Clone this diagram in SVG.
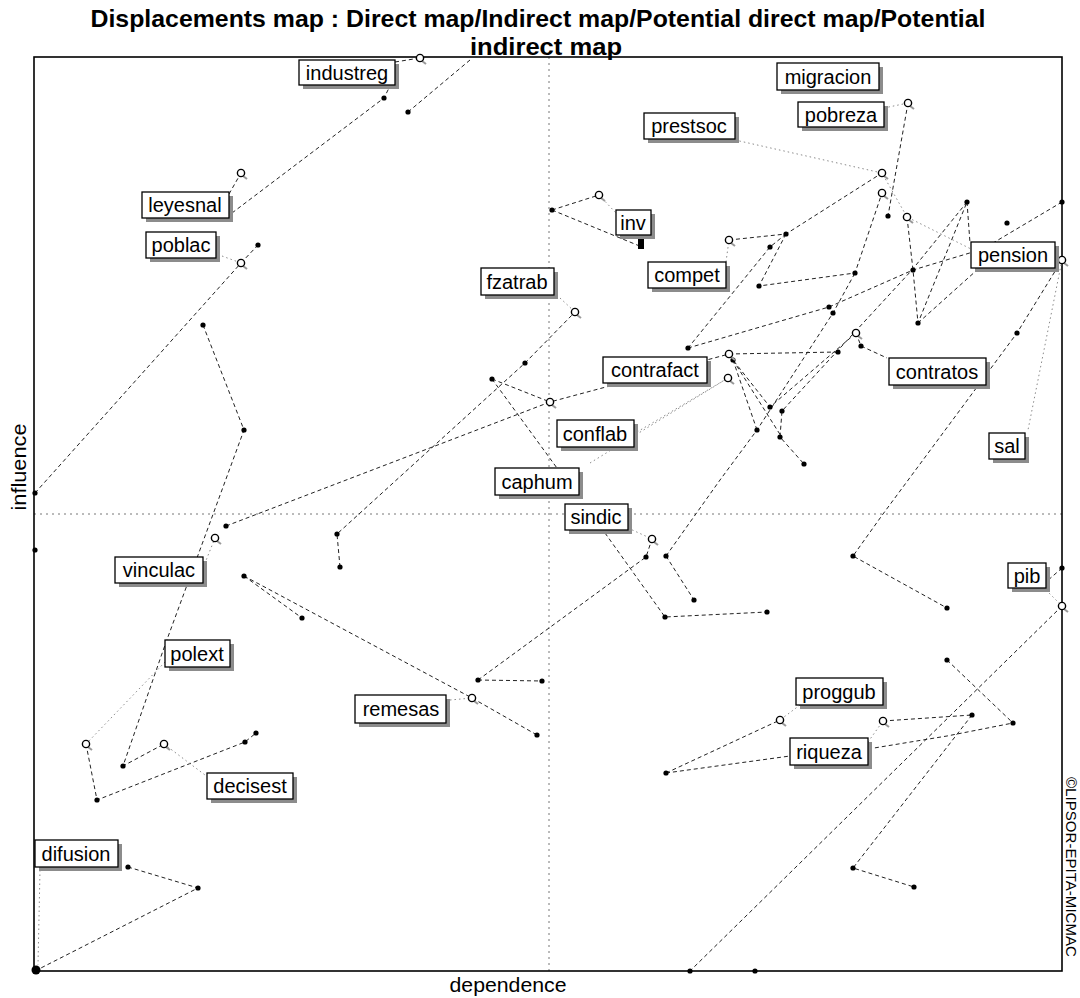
<svg xmlns="http://www.w3.org/2000/svg" width="1080" height="998" viewBox="0 0 1080 998">
<defs>
<style>
.d{fill:none;stroke:#222;stroke-width:1;stroke-dasharray:4 3}
.p{fill:none;stroke:#8a8a8a;stroke-width:1;stroke-dasharray:1.5 3}
.m{fill:none;stroke:#777;stroke-width:1;stroke-dasharray:2 4}
.lb rect.b{fill:#fff;stroke:#000;stroke-width:1.3}
.lb rect.s{fill:#8c8c8c}
.lb text{font-family:"Liberation Sans",Arial,sans-serif;font-size:20px;fill:#000;text-anchor:middle}
.ax{font-family:"Liberation Sans",Arial,sans-serif;font-size:20px;fill:#000}
</style>
<g id="q"><line x1="2" y1="3" x2="6" y2="6" stroke="#999" stroke-width="2"/><circle r="3.6" fill="#fff" stroke="#000" stroke-width="1.4"/></g>
<circle id="o" r="2.6" fill="#000"/>
</defs>
<rect width="1080" height="998" fill="#fff"/>
<g id="title" font-family="'Liberation Sans Narrow','Liberation Sans',Arial,sans-serif" font-weight="bold" font-size="24" text-anchor="middle" fill="#000">
<text x="538" y="27" textLength="895" lengthAdjust="spacingAndGlyphs">Displacements map : Direct map/Indirect map/Potential direct map/Potential</text>
<text x="546" y="55" textLength="152" lengthAdjust="spacingAndGlyphs">indirect map</text>
</g>
<g id="axes">
<line class="m" x1="34" y1="514" x2="1062" y2="514"/>
<line class="m" x1="549" y1="57" x2="549" y2="971"/>
<rect x="34" y="57" width="1028" height="914" fill="none" stroke="#000" stroke-width="1.6"/>
<text class="ax" x="508" y="992" text-anchor="middle" textLength="117" lengthAdjust="spacingAndGlyphs">dependence</text>
<text class="ax" transform="translate(26,467) rotate(-90)" text-anchor="middle" textLength="87" lengthAdjust="spacingAndGlyphs">influence</text>
<text transform="translate(1066,777) rotate(90)" font-family="'Liberation Sans',Arial,sans-serif" font-size="14" fill="#000" textLength="180" lengthAdjust="spacingAndGlyphs">©LIPSOR-EPITA-MICMAC</text>
</g>
<g id="connectors">
<polyline class="d" points="232,213 384,98 390,86"/>
<polyline class="d" points="229,194 241,173"/>
<polyline class="d" points="395,62 420,58"/>
<polyline class="d" points="408,112 470,60"/>
<polyline class="d" points="241,263 258,245"/>
<polyline class="d" points="35,493 241,263"/>
<polyline class="d" points="203,325 244,430 165,645 123,766 164,744"/>
<polyline class="d" points="86,744 97,800 245,742 256,733"/>
<polyline class="d" points="226,526 550,402 729,354"/>
<polyline class="d" points="340,567 337,534 525,363 575,312"/>
<polyline class="d" points="492,379 550,402"/>
<polyline class="d" points="492,379 573,490"/>
<polyline class="d" points="244,576 302,618"/>
<polyline class="d" points="244,576 472,698 537,735"/>
<polyline class="d" points="478,680 542,681"/>
<polyline class="d" points="478,680 646,557 652,539"/>
<polyline class="d" points="605,533 665,617 767,612"/>
<polyline class="d" points="666,556 694,600"/>
<polyline class="d" points="666,556 720,480 757,430 833,313 855,273"/>
<polyline class="d" points="552,210 599,195"/>
<polyline class="d" points="552,210 642,247"/>
<polyline class="d" points="729,240 786,234 882,173"/>
<polyline class="d" points="786,234 759,286 855,273 882,193"/>
<polyline class="d" points="908,103 888,216"/>
<polyline class="d" points="786,234 770,247 688,348"/>
<polyline class="d" points="688,348 829,307 913,270 973,252"/>
<polyline class="d" points="967,202 912,270 782,411 780,437 804,464"/>
<polyline class="d" points="856,333 770,407 733,360"/>
<polyline class="d" points="733,360 757,430"/>
<polyline class="d" points="733,360 781,436"/>
<polyline class="d" points="729,354 838,352"/>
<polyline class="d" points="856,333 861,346 887,358"/>
<polyline class="d" points="907,217 913,270 918,323 967,202"/>
<polyline class="d" points="918,323 977,270"/>
<polyline class="d" points="1062,202 993,243"/>
<polyline class="d" points="967,202 970,243"/>
<polyline class="d" points="1062,260 1017,333 883,514 853,556 947,608"/>
<polyline class="d" points="947,660 1013,723"/>
<polyline class="d" points="1062,568 1046,582"/>
<polyline class="d" points="1062,606 690,971"/>
<polyline class="d" points="972,715 853,868 914,887"/>
<polyline class="d" points="883,721 972,715"/>
<polyline class="d" points="666,773 780,720"/>
<polyline class="d" points="666,773 790,756"/>
<polyline class="d" points="868,749 947,736 1013,723"/>
<polyline class="d" points="128,867 198,888 35,971"/>
<polyline class="p" points="735,140 882,173 907,217 973,250"/>
<polyline class="p" points="884,108 908,103"/>
<polyline class="p" points="222,256 241,263"/>
<polyline class="p" points="560,298 575,312"/>
<polyline class="p" points="637,432 728,378"/>
<polyline class="p" points="590,463 728,378"/>
<polyline class="p" points="628,528 652,539"/>
<polyline class="p" points="1062,260 1028,430"/>
<polyline class="p" points="800,705 780,720"/>
<polyline class="p" points="868,742 883,721"/>
<polyline class="p" points="164,744 205,775"/>
<polyline class="p" points="165,662 86,744"/>
<polyline class="p" points="40,870 38,965"/>
<polyline class="p" points="203,568 215,538"/>
<polyline class="p" points="1046,590 1062,606"/>
<polyline class="p" points="599,195 616,213"/>
<polyline class="p" points="726,262 729,240"/>
<polyline class="p" points="450,700 472,698"/>
</g>
<g id="points">
<use href="#o" x="384" y="98"/><use href="#o" x="408" y="112"/><use href="#o" x="258" y="245"/><use href="#o" x="35" y="493"/><use href="#o" x="35" y="550"/>
<use href="#o" x="203" y="325"/><use href="#o" x="244" y="430"/><use href="#o" x="123" y="766"/><use href="#o" x="97" y="800"/><use href="#o" x="245" y="742"/><use href="#o" x="256" y="733"/>
<use href="#o" x="226" y="526"/><use href="#o" x="337" y="534"/><use href="#o" x="340" y="567"/><use href="#o" x="525" y="363"/><use href="#o" x="492" y="379"/>
<use href="#o" x="244" y="576"/><use href="#o" x="302" y="618"/><use href="#o" x="537" y="735"/><use href="#o" x="478" y="680"/><use href="#o" x="542" y="681"/>
<use href="#o" x="646" y="557"/><use href="#o" x="666" y="556"/><use href="#o" x="694" y="600"/><use href="#o" x="665" y="617"/><use href="#o" x="767" y="612"/>
<use href="#o" x="552" y="210"/><use href="#o" x="786" y="234"/><use href="#o" x="770" y="247"/><use href="#o" x="759" y="286"/><use href="#o" x="855" y="273"/>
<use href="#o" x="888" y="216"/><use href="#o" x="688" y="348"/><use href="#o" x="829" y="307"/><use href="#o" x="913" y="270"/><use href="#o" x="967" y="202"/>
<use href="#o" x="918" y="323"/><use href="#o" x="1007" y="223"/><use href="#o" x="1062" y="202"/><use href="#o" x="782" y="411"/><use href="#o" x="780" y="437"/>
<use href="#o" x="804" y="464"/><use href="#o" x="770" y="407"/><use href="#o" x="757" y="430"/><use href="#o" x="733" y="360"/><use href="#o" x="838" y="352"/>
<use href="#o" x="861" y="346"/><use href="#o" x="1017" y="333"/><use href="#o" x="853" y="556"/><use href="#o" x="947" y="608"/><use href="#o" x="947" y="660"/>
<use href="#o" x="1013" y="723"/><use href="#o" x="1062" y="568"/><use href="#o" x="690" y="971"/><use href="#o" x="755" y="971"/><use href="#o" x="972" y="715"/>
<use href="#o" x="853" y="868"/><use href="#o" x="914" y="887"/><use href="#o" x="666" y="773"/><use href="#o" x="198" y="888"/><use href="#o" x="128" y="867"/><use href="#o" x="833" y="313"/>
<circle cx="36" cy="970" r="4.5" fill="#000"/>
<rect x="638" y="238" width="6" height="11" fill="#000"/>
<use href="#q" x="241" y="173"/><use href="#q" x="420" y="58"/><use href="#q" x="241" y="263"/><use href="#q" x="86" y="744"/><use href="#q" x="164" y="744"/>
<use href="#q" x="215" y="538"/><use href="#q" x="550" y="402"/><use href="#q" x="575" y="312"/><use href="#q" x="599" y="195"/><use href="#q" x="729" y="240"/>
<use href="#q" x="882" y="173"/><use href="#q" x="882" y="193"/><use href="#q" x="908" y="103"/><use href="#q" x="907" y="217"/><use href="#q" x="856" y="333"/>
<use href="#q" x="729" y="354"/><use href="#q" x="728" y="378"/><use href="#q" x="652" y="539"/><use href="#q" x="472" y="698"/><use href="#q" x="780" y="720"/>
<use href="#q" x="883" y="721"/><use href="#q" x="1062" y="260"/><use href="#q" x="1062" y="606"/>
</g>
<g id="n-industreg" class="lb"><rect class="s" x="303" y="64" width="96" height="25"/><rect class="b" x="299" y="60" width="96" height="25"/><text x="347" y="80">industreg</text></g>
<g id="n-migracion" class="lb"><rect class="s" x="781" y="67" width="102" height="27"/><rect class="b" x="777" y="63" width="102" height="27"/><text x="828" y="84">migracion</text></g>
<g id="n-pobreza" class="lb"><rect class="s" x="802" y="106" width="86" height="25"/><rect class="b" x="798" y="102" width="86" height="25"/><text x="841" y="122">pobreza</text></g>
<g id="n-prestsoc" class="lb"><rect class="s" x="648" y="117" width="91" height="26"/><rect class="b" x="644" y="113" width="91" height="26"/><text x="689" y="133">prestsoc</text></g>
<g id="n-leyesnal" class="lb"><rect class="s" x="146" y="196" width="87" height="26"/><rect class="b" x="142" y="192" width="87" height="26"/><text x="185" y="212">leyesnal</text></g>
<g id="n-inv" class="lb"><rect class="s" x="620" y="214" width="35" height="25"/><rect class="b" x="616" y="210" width="35" height="25"/><text x="633" y="230">inv</text></g>
<g id="n-poblac" class="lb"><rect class="s" x="150" y="236" width="70" height="26"/><rect class="b" x="146" y="232" width="70" height="26"/><text x="181" y="252">poblac</text></g>
<g id="n-pension" class="lb"><rect class="s" x="975" y="246" width="84" height="26"/><rect class="b" x="971" y="242" width="84" height="26"/><text x="1013" y="262">pension</text></g>
<g id="n-compet" class="lb"><rect class="s" x="652" y="266" width="78" height="26"/><rect class="b" x="648" y="262" width="78" height="26"/><text x="687" y="282">compet</text></g>
<g id="n-fzatrab" class="lb"><rect class="s" x="485" y="272" width="73" height="27"/><rect class="b" x="481" y="268" width="73" height="27"/><text x="517" y="289">fzatrab</text></g>
<g id="n-contrafact" class="lb"><rect class="s" x="607" y="361" width="104" height="26"/><rect class="b" x="603" y="357" width="104" height="26"/><text x="655" y="377">contrafact</text></g>
<g id="n-contratos" class="lb"><rect class="s" x="893" y="362" width="97" height="27"/><rect class="b" x="889" y="358" width="97" height="27"/><text x="937" y="379">contratos</text></g>
<g id="n-conflab" class="lb"><rect class="s" x="561" y="424" width="77" height="27"/><rect class="b" x="557" y="420" width="77" height="27"/><text x="595" y="441">conflab</text></g>
<g id="n-sal" class="lb"><rect class="s" x="993" y="437" width="36" height="26"/><rect class="b" x="989" y="433" width="36" height="26"/><text x="1007" y="453">sal</text></g>
<g id="n-caphum" class="lb"><rect class="s" x="499" y="472" width="84" height="27"/><rect class="b" x="495" y="468" width="84" height="27"/><text x="537" y="489">caphum</text></g>
<g id="n-sindic" class="lb"><rect class="s" x="569" y="508" width="63" height="26"/><rect class="b" x="565" y="504" width="63" height="26"/><text x="596" y="524">sindic</text></g>
<g id="n-vinculac" class="lb"><rect class="s" x="119" y="561" width="88" height="26"/><rect class="b" x="115" y="557" width="88" height="26"/><text x="159" y="577">vinculac</text></g>
<g id="n-pib" class="lb"><rect class="s" x="1012" y="567" width="38" height="25"/><rect class="b" x="1008" y="563" width="38" height="25"/><text x="1027" y="583">pib</text></g>
<g id="n-polext" class="lb"><rect class="s" x="169" y="644" width="65" height="27"/><rect class="b" x="165" y="640" width="65" height="27"/><text x="197" y="661">polext</text></g>
<g id="n-proggub" class="lb"><rect class="s" x="800" y="682" width="87" height="27"/><rect class="b" x="796" y="678" width="87" height="27"/><text x="839" y="699">proggub</text></g>
<g id="n-remesas" class="lb"><rect class="s" x="359" y="699" width="91" height="28"/><rect class="b" x="355" y="695" width="91" height="28"/><text x="401" y="716">remesas</text></g>
<g id="n-riqueza" class="lb"><rect class="s" x="794" y="742" width="78" height="27"/><rect class="b" x="790" y="738" width="78" height="27"/><text x="829" y="759">riqueza</text></g>
<g id="n-decisest" class="lb"><rect class="s" x="211" y="777" width="86" height="26"/><rect class="b" x="207" y="773" width="86" height="26"/><text x="250" y="793">decisest</text></g>
<g id="n-difusion" class="lb"><rect class="s" x="39" y="844" width="83" height="27"/><rect class="b" x="35" y="840" width="83" height="27"/><text x="76" y="861">difusion</text></g>
</svg>
